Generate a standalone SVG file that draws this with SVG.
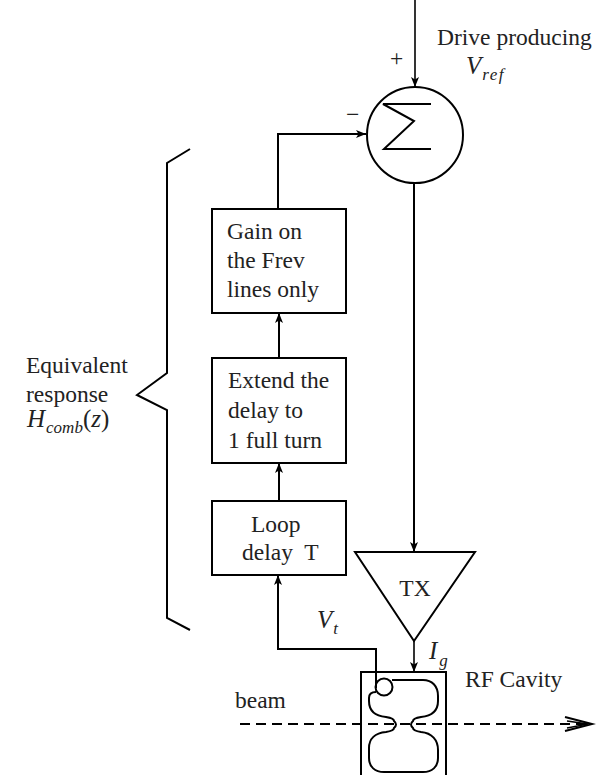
<svg xmlns="http://www.w3.org/2000/svg" width="607" height="775" viewBox="0 0 607 775">
  <defs>
    <marker id="ah" viewBox="0 0 10 8" refX="10" refY="4" markerWidth="10" markerHeight="8" markerUnits="userSpaceOnUse" orient="auto">
      <path d="M0 0 L10 4 L0 8 L2.5 4 Z" fill="#000"/>
    </marker>
  </defs>
  <style>
    .ln { fill: none; stroke: #000; stroke-width: 2; }
    .thin { fill: none; stroke: #000; stroke-width: 1.6; }
    .box { fill: #fff; stroke: #000; stroke-width: 2; }
    .t { font-family: "Liberation Serif", "Times New Roman", serif; font-size: 23.5px; fill: #222; }
    .m { font-family: "Liberation Serif", "Times New Roman", serif; font-style: italic; font-size: 25px; fill: #222; }
    .s { font-family: "Liberation Serif", "Times New Roman", serif; font-style: italic; font-size: 17px; fill: #222; }
    .a { marker-end: url(#ah); }
  </style>

  <rect width="607" height="775" fill="#fff"/>

  <!-- connectors -->
  <g id="connectors">
    <line class="thin a" x1="415" y1="0" x2="415" y2="87"/>
    <line class="ln a" x1="414" y1="183" x2="414" y2="552"/>
    <line class="thin a" x1="414" y1="641" x2="414" y2="672"/>
    <path class="ln a" d="M278 209 V134 H366"/>
    <line class="ln a" x1="279" y1="358" x2="279" y2="313"/>
    <line class="ln a" x1="279" y1="501" x2="279" y2="463"/>
    <path class="ln a" d="M376 688 V649 H278 V575"/>
  </g>

  <!-- summing junction -->
  <g id="sum">
    <circle class="ln" cx="415" cy="135" r="48"/>
    <path class="ln" d="M431 104 H383 L414 121 L384 149 H431"/>
    <text class="t" x="390" y="66">+</text>
    <text class="t" x="346" y="122">−</text>
  </g>

  <!-- drive reference label -->
  <g id="drive">
    <text class="t" x="437" y="45">Drive producing</text>
    <text class="m" x="466" y="74">V<tspan class="s" dy="6" dx="1" letter-spacing="1.5">ref</tspan></text>
  </g>

  <!-- comb filter blocks -->
  <g id="gain">
    <rect class="box" x="212" y="209" width="134" height="104"/>
    <text class="t" x="227" y="239">Gain on</text>
    <text class="t" x="227" y="268">the Frev</text>
    <text class="t" x="227" y="297">lines only</text>
  </g>

  <g id="extend">
    <rect class="box" x="212" y="358" width="134" height="105"/>
    <text class="t" x="228" y="388">Extend the</text>
    <text class="t" x="228" y="418">delay to</text>
    <text class="t" x="228" y="448">1 full turn</text>
  </g>

  <g id="loopdelay">
    <rect class="box" x="212" y="501" width="134" height="74"/>
    <text class="t" x="251" y="532">Loop</text>
    <text class="t" x="242" y="560" xml:space="preserve">delay  T</text>
  </g>

  <!-- brace around the comb blocks -->
  <g id="brace">
    <path class="ln" d="M190 149 L167 163 V373 L137 395 L167 410 V618 L190 630"/>
    <text class="t" x="26" y="373">Equivalent</text>
    <text class="t" x="26" y="402">response</text>
    <text class="m" x="27" y="427">H<tspan class="s" dy="6" dx="1">comb</tspan><tspan class="t" dy="-6" style="font-style:normal;font-size:25px">(</tspan><tspan>z</tspan><tspan class="t" style="font-style:normal;font-size:25px">)</tspan></text>
  </g>

  <!-- transmitter -->
  <g id="tx">
    <path class="ln" d="M355 552 H475 L414 641 Z"/>
    <text class="t" x="415" y="596" text-anchor="middle">TX</text>
    <text class="m" x="429" y="659">I<tspan class="s" dy="7" dx="2">g</tspan></text>
  </g>

  <text id="vt" class="m" x="317" y="628">V<tspan class="s" dy="6" dx="1">t</tspan></text>

  <!-- cavity -->
  <g id="cavity">
    <path class="ln" d="M361 775 V672 H446 V775"/>
    <path class="ln" d="M392 680 H423 C432 680 438 686 438 696 V701 C438 711 431 716 421 717 C415 718 413 719 413 721 Q409 724.5 413 728 C413 730 415 731 421 732 C432 733 438 740 438 750 V758 C438 767 432 772 423 772 H384 C375 772 369 767 369 758 V748 C369 739 375 733 386 732 C392 731 394 730 394 728 Q398 724.5 394 721 C394 719 392 718 386 717 C375 716 369 711 369 701 V698 C369 694 371 692 376 692"/>
    <circle class="ln" cx="384" cy="687" r="8.5"/>
    <text class="t" x="465" y="687">RF Cavity</text>
  </g>

  <!-- beam line -->
  <g id="beam">
    <line x1="240" y1="724" x2="588" y2="724" stroke="#000" stroke-width="2.2" stroke-dasharray="10 6"/>
    <path class="ln" d="M565 717 L592 724 L565 731"/>
    <path fill="none" stroke="#000" stroke-width="1.5" d="M567 721 L588 724 L567 728"/>
    <text class="t" x="235" y="708">beam</text>
  </g>
</svg>
